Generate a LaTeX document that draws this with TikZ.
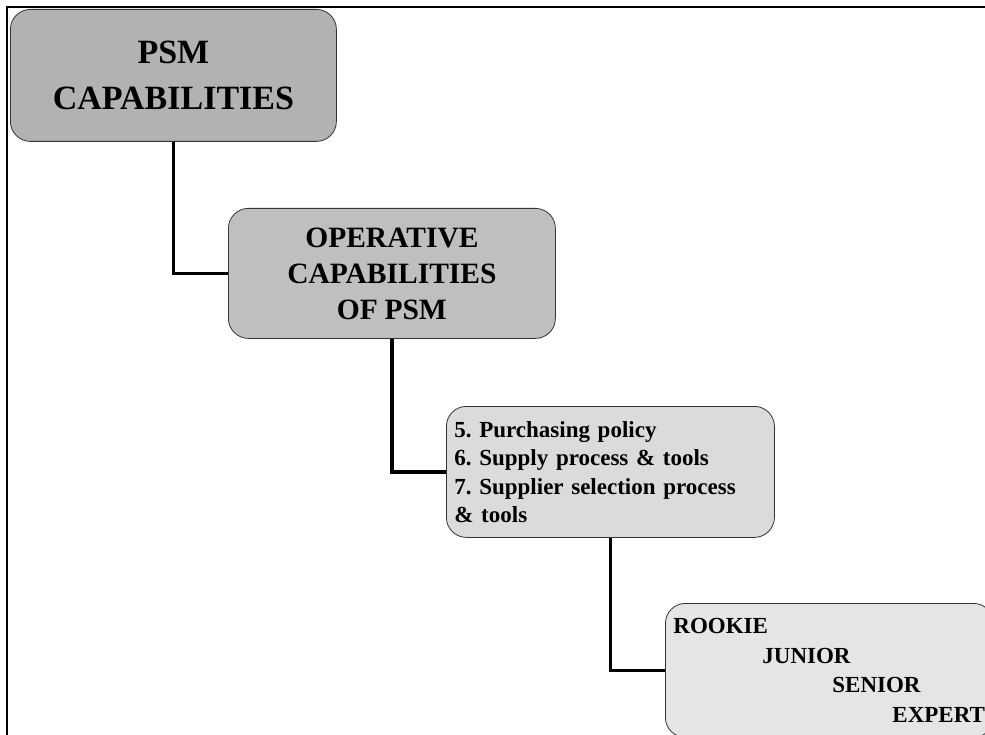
\documentclass[tikz,border=0pt]{standalone}
\usepackage{fontspec}
\setmainfont[WordSpace=0.9]{Liberation Serif}
\frenchspacing
\begin{document}
\begin{tikzpicture}[x=1pt,y=-1pt,
  capbox/.style={draw=black!80, line width=0.8pt, rounded corners=20pt,
    anchor=north west, inner sep=0pt, inner xsep=8pt,
    minimum width=328pt, minimum height=131pt},
  link/.style={line width=3.2pt, black},
  frameline/.style={line width=2.5pt, black}]
  % canvas
  \clip (0,0) rectangle (985,735);
  \fill[white] (0,0) rectangle (985,735);
  % outer frame (top and left edges)
  \draw[frameline] (985,7) -- (7,7) -- (7,735);

  % capability boxes
  \node[capbox, fill=black!30, minimum width=326pt, minimum height=132pt, align=center,
        font=\bfseries\fontsize{34}{46}\selectfont]
    (psm) at (10,9) {PSM\\CAPABILITIES};
  \node[capbox, fill=black!25, minimum width=327pt, minimum height=130pt, align=center,
        font=\bfseries\fontsize{29.5}{36}\selectfont]
    (oper) at (228,208) {OPERATIVE\\CAPABILITIES\\OF PSM};
  \node[capbox, fill=black!14, align=left, text width=312pt,
        font=\bfseries\fontsize{23}{28.5}\selectfont]
    (areas) at (446,406) {5. Purchasing policy\\
      6. Supply process \& tools\\
      7. Supplier selection process\\
      \& tools};
  \node[capbox, fill=black!10, align=left, text width=312pt, minimum height=134pt,
        font=\bfseries\fontsize{23}{29.5}\selectfont]
    (levels) at (665,603) {ROOKIE\\
      \hspace*{89pt}JUNIOR\\
      \hspace*{159pt}SENIOR\\
      \hspace*{219pt}EXPERT};

  % hierarchy connectors
  \draw[link] (psm.south) |- (oper.west);
  \draw[link] (oper.south) |- (areas.west);
  \draw[link] (areas.south) |- (levels.west);
\end{tikzpicture}
\end{document}
